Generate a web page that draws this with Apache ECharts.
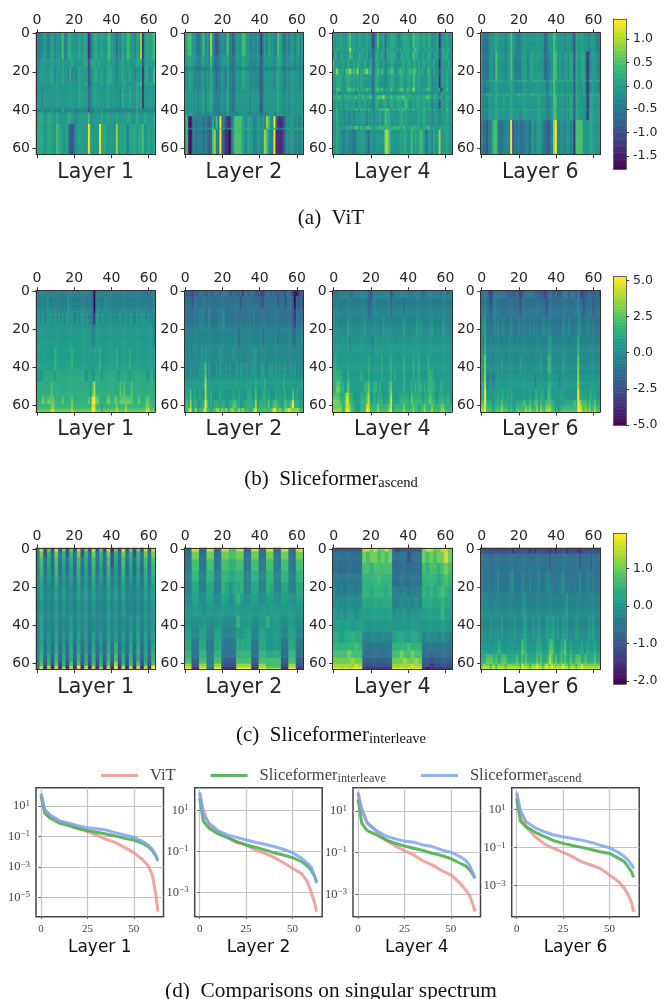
<!DOCTYPE html>
<html><head><meta charset="utf-8">
<style>html,body{margin:0;padding:0;background:#fff}#c{width:665px;height:999px}</style>
<script src="https://cdn.jsdelivr.net/npm/echarts@6/dist/echarts.min.js"></script>
</head><body><div id="c"></div>
<script>
// Heat-map readings. Each band: [first row, colour levels across the columns, optional fine steps down the band].
// Level characters: 0-9 whole levels, a-j half levels (a=0.5 ... i=8.5). 64 chars = one per column, 32 chars = one per two columns.
const vitL1=[[0,"44445544 65455574 46655556 55651356 65565567 55535465 57655465 81566567"],[14,"54555555 65556565 55565555 55662566 56656566 55545565 56555566 62565656"],[18,"45555555 65455565 54645456 55552456 65565566 65545565 55655455 61565457"],[26,"55555555 65555565 55555556 55662456 55565566 55545556 55555566 71565656"],[28,"55545555 55555555 55555556 55553456 55555565 55555465 55655565 61555555"],[40,"44454444 54444464 44454444 44442444 54454444 44444444 44444454 54444444"],[42,"66665566 65565555 56655455 55557455 55565565 55565555 56655565 55665556"],[48,"66665566 65576655 64223556 55559655 55966655 55585656 54666656 67556556"]];
const vitL2=[[0,"56775543 45745485 32345457 44245557 75544545 41454655 44765345 35545645"],[12,"55665544 45645475 33445556 44345556 65544545 42455555 45665445 45545545"],[18,"44554433 44444464 33344445 43344445 54444444 32444544 44554344 34444544"],[20,"45565444 45545465 43445446 44345556 65544545 32455555 45655445 45555545"],[30,"55555454 55645565 44445456 44345555 55545555 42455555 55655455 45555555"],[42,"55565444 45544454 44444445 44444555 55444545 43445555 44555445 45555555"],[44,"47103434 44343236 47394321 13577776 54655445 54548754 93111245 45545445"],[50,"57324544 55454457 56585533 45677776 66665556 65557765 75333456 65556566"],[51,"47103434 44343237 84393211 03577776 54655445 54587544 91111245 45545445"]];
const vitL4=[[0,"55556555 67565565 55655225 75563556 66545566 65576665 66566455 61455655"],[8,"65665655 68665655 65655335 65564656 65656566 66567665 56656555 62565665"],[10,"46546555 57655565 55645336 65653656 66545656 65576655 65566456 52465655"],[14,"75555655 65565665 56556436 65564556 65555665 66566565 66565565 51555565"],[19,"66866657 78676856 67867346 76764667 75567665 67677566 65576465 52555656"],[22,"55666556 66565656 55555346 65554556 65556655 66576565 55566455 51555655"],[29,"55776556 77675756 66766437 76765657 65667765 76686565 66676555 56155755"],[31,"45645555 55554565 55555345 55555555 55555555 65555555 55555455 53555555"],[33,"66676566 66667665 75667546 77786667 66676776 66665666 66776566 55645665"],[35,"55656556 55565565 56555446 65566556 65666567 65565665 66565455 52555655"],[40,"55756565 66667757 66676546 67777866 67576776 66676566 67666566 55645765"],[41,"55655545 44545555 55455545 56557665 55556656 55555565 66555455 54555655"],[49,"55665656 66667757 66776656 67676766 67676675 66676665 66675565 56656665"],[51,"55655445 44434555 55435545 55558875 55556566 55756567 65355465 58555655"]];
const vitL6=[[0,"53334555 65555455 75544455 55555555 55335557 65555455 54265565 55455544"],[10,"53334554 75555455 75444455 54565555 55334457 75554555 65265566 41355554"],[25,"54445656 65665565 65656566 65556665 66645567 66665566 65365566 51565565"],[26,"54344555 65555555 65545455 55555555 55544557 65555455 55265556 41355554"],[32,"55566655 66566675 65667666 65667566 66645667 66566566 65365666 51666565"],[33,"54445555 65556555 65555555 55555556 55544457 75555455 65265555 51465555"],[40,"55655656 66666665 66656566 66666665 66655567 66566566 65365665 52566565"],[41,"54445555 65555555 65555455 55555556 55544457 75555455 65265555 41465555"],[46,"43324467 74334444 92434333 44355455 54332348 94454455 44177775 55565555"]];
const ascL1=[[0,"44444444 44444444 44444444 44444430 44444444 44444444 44444444 44434344",[-.2]],[3,"44444454 44444444 45444444 44444430 44444544 44444444 44444444 44444344",[-.2,0,.2]],[12,"55454455 54545454 55454454 55454431 55455454 54545544 54554454 55545444",[0,.2]],[18,"55555555 55555555 55555555 55555544 55555555 55555555 55555555 55555554",[-.1,.1,.3]],[30,"55555555 55655555 55565555 55555555 55655555 55565555 55655555 55555555",[.3,.5]],[42,"55556666 66566666 66666666 66556655 66656666 66665666 66566666 66655665",[0,.2]],[48,"66666666 76666666 66666666 66666578 66666666 66666767 66676666 66666666",[0,.2,.4]],[56,"66677677 77666676 66676666 66667699 77666677 66776777 77776667 66677666",[.2,.4]],[60,"67777777 88777777 77787777 77777799 77767777 77787777 87777777 77788777",[-.5,-.3,0,.5]]];
const ascL2=[[0,"22221222 33322322 33323333 22322231 33223322 21123323 22223223 32100122",[.3]],[3,"33332333 33433333 33333333 33333323 33333333 32233333 33233323 33203232",[0,.2,.4]],[10,"33333333 44433433 33434433 33333333 33333433 33333333 33333333 33213333",[0,.3,.5]],[20,"44444444 44444444 44444444 44444344 44444444 44344444 44344444 44334444",[-.1,.1,.3]],[30,"44444444 45454444 44454444 44544444 44444554 44444444 44444444 44444444",[.2,.4]],[38,"44454444 55574544 45454454 54445455 45445554 45544555 45454554 45454544",[0,.2,.4]],[46,"55555555 55585555 55555555 55555555 55555565 55565555 55555655 55555555",[0,.2,.3]],[52,"56575655 65586565 55565555 55655655 55665575 55665655 56565665 55756555",[0,.2]],[58,"57585665 56697565 66656655 66776655 66666585 66666756 77665676 67966655",[0,.2]],[62,"67896786 77897767 78878787 78877878 77767897 77777778 98787788 98888877",[-.3,0]]];
const ascL4=[[0,"33344444 43344444 44432344 44444442 34444444 43434444 33444444 44344344",[-.2,0,.2]],[4,"44444444 44444444 44433444 44444443 44444434 44444444 44444444 44444444",[-.3,-.1,.1]],[14,"44444444 54444444 45444444 44454444 44444454 44444545 44444544 44454444",[.1,.3,.5]],[24,"55555555 54555555 55555455 55555555 55555555 55555555 55555555 55555555",[-.2,0,.2]],[34,"56555555 55555555 55565555 55655556 55555565 55565565 55565555 55555555",[.1,.3]],[42,"66666555 65555556 55565555 55655556 56555565 55565565 55566655 55555555",[.2,.4]],[48,"66776655 75555555 56675566 56555567 55555565 55656566 56566665 55655555",[.2,.5]],[54,"77776668 86655556 66785565 66655568 55556666 65766666 56667665 56665665",[0,.3,.5]],[60,"88888779 98776667 77997777 87777789 67777787 77787767 78777877 77887777",[-.6,-.3,0]]];
const ascL6=[[0,"23332123 33333322 22232122 33333222 22122322 32223332 33323212 22322232",[.2,.5]],[4,"33433234 33333333 33333233 33333333 33323333 33333333 33334332 33332333",[0,.2,.3]],[14,"34533334 34344333 43334333 33434333 34434333 33334334 33334433 34333333",[.2,.4,.6]],[24,"44644444 44444444 44444444 44444444 44445544 44444444 44446444 44444444",[0,.2,.4]],[34,"45744444 44454444 44444544 44444444 54446644 44445444 44447444 44444444",[.4,.6]],[44,"56844544 55555555 55555555 55555455 55556655 55455555 55558555 55555555",[-.1,.2]],[52,"66955555 56566565 65555555 55655665 66557655 55565555 55559665 65665655",[0,.2]],[58,"77966655 66676665 65566667 66766775 76677766 55565666 66769877 76766766",[0,.2]],[61,"88977766 77787776 76677777 87877786 87788877 66677777 77779987 87877877",[-.4,-.2,.2]]];
const intL1=[[0,"4i 2h 2i 2h 2h 2i 2h 2i 2h 2i 1h 2i 2h 2h 2i 2i"],[2,"4h 2g 3h 3g 2g 3h 2g 3h 3g 3h 2g 3h 3g 2g 3h 3h"],[5,"47 36 37 36 36 37 36 37 36 37 26 37 36 36 37 37"],[10,"4g 3f 3g 3f 3f 3g 3f 3g 3f 3g 3f 3g 3f 3f 3g 3g"],[15,"46 d5 d6 d5 d5 d6 d5 d6 d5 d6 d5 d6 d5 d5 d6 d6"],[20,"4f 4e 4f 4f 4e 4f 4f 4f 4e 4f 4f 4f 4e 4e 4f 4f"],[28,"45 4e 45 45 4e 45 45 45 4e 45 45 45 4e 4e 45 45"],[36,"4f 4e 45 4e 45 45 45 4e 4e 45 45 4e 45 45 45 45"],[44,"4f d5 df d5 df df d5 df d5 df df d5 df df df df"],[50,"46 35 36 3f 36 36 35 36 35 36 3g 35 36 36 3f 36"],[56,"4g c6 cg c6 c6 cg c6 cg c6 cg c7 c6 cg c6 c6 cg"],[60,"47 2g 27 2g 27 27 2g 27 2g 27 28 2g 27 27 2g 27"],[62,"48 18 18 17 18 19 18 18 17 18 19 18 18 18 18 19"],[63,"4i 1i 1i 1i 1i 1i 1i 1i 1i 1i 19 1i 1i 1i 1i 19"]];
const intL2=[[0,"33 ii 33 ii 33 ii 77 ii 33 ii 33 ii 33 ii 33 ii"],[2,"33 hh 33 hh 33 hh 77 hh 33 hh 33 hh 33 hh 33 hh"],[6,"dd 77 dd 77 dd 77 gg 77 dd 77 dd 77 dd 77 dd 77"],[12,"44 gg 44 gg 44 gg 66 gg 44 gg 44 gg 44 gg 44 gg"],[18,"44 66 44 66 44 g6 56 6g 44 66 44 g6 44 66 44 66"],[24,"ee ff ee ff ee ff ef gf ee ff ee ff ee ff ee ff"],[30,"55 55 5e 55 55 55 55 f5 55 55 55 5f 55 55 55 55"],[36,"55 ee 55 ee 55 ee ee g5 55 ee 55 g5 55 ee 55 ee"],[42,"ff 44 ff 44 ff 44 44 55 ff 44 ff 55 55 44 ff 44"],[48,"66 dd 66 dd 66 dd dd 66 66 dd 66 55 55 dd 66 dd"],[54,"gg 33 gg dd gg 33 33 gg gg 33 gg 66 66 33 gg 33"],[58,"77 cc 77 dd 77 cc cc 77 77 cc 77 77 77 cc 77 cc"],[61,"88 22 88 44 88 22 22 88 88 22 88 77 77 22 88 22"],[63,"99 11 99 33 99 11 11 99 99 11 99 88 88 11 99 11"]];
const intL4=[[0,"cccccccc iihihhih cbcccccc hiihhiih"],[2,"33333333 h7hh7h7h 33332333 h7h7hhih"],[8,"33333333 77g77777 33333333 7g77g7h7"],[14,"dddddddd gggg7ggg 33d33d33 gggg6g7g"],[20,"4d4d44d4 gg6ggg6g 44d4d4d4 g6g6g7g6"],[26,"eeeeeeee 66666666 44e4e4e4 66666g66"],[32,"5e5e55e5 ffffffff e5e5e5e5 fffffgff"],[38,"fffff5ff 55555555 55555f55 55555f55"],[44,"66f66g66 44e44e44 f66ff66f 4e4e4e44"],[50,"gggggg7g dddddddd gggg7ggg dddddddd"],[54,"7777h777 33333333 77h77h77 33c33333"],[58,"hhhhh8hh cccccccc hhh8hh8h cc2ccccc"],[61,"888888i8 22222222 88888i88 22122222"],[63,"99i9i999 11111111 9i9i9i99 10111111"]];
const intL6=[[0,"22222222 22222222 21222222 22122122 22222122 12222212 22221122 22222222",[0]],[3,"33333333 33333333 33333333 33333333 33333233 33333333 33333233 33323333",[0,.2,.4]],[12,"33333333 34333333 44333343 33433334 33344333 33344333 33333433 34333333",[.2,.5]],[24,"44444444 44444444 44444445 44444444 44444444 44444454 44444444 44444444",[-.2,.1,.4]],[36,"44444544 44454444 44544445 54445445 44455455 45445454 44454444 44545444",[.2,.5]],[48,"55555555 56655555 55555576 65555566 65556776 55566755 65555565 56555655",[-.2,.1,.4]],[56,"66677776 76677766 66676676 76666676 76667876 76676766 76677766 76666766",[-.1,.2,.5]],[61,"78888788 78888788 88888798 88788898 87898898 88889887 88878898 88888888",[-.5,0,.5]]];

// Singular spectra: index positions and log10(sigma)
const specX=[0,1,2,5,10,15,20,25,30,35,40,45,50,55,58,60,62,63];
const vitSpecL1=[1.8,1.2,.74,.34,.01,-.21,-.45,-.69,-.91,-1.19,-1.39,-1.72,-2.07,-2.55,-2.99,-3.54,-4.96,-5.95];
const intSpecL1=[1.65,1.1,.52,.19,-.14,-.29,-.48,-.62,-.73,-.84,-.97,-1.13,-1.24,-1.46,-1.7,-1.94,-2.3,-2.62];
const ascSpecL1=[1.83,1.3,.74,.41,.01,-.14,-.3,-.43,-.5,-.58,-.75,-.91,-1.06,-1.35,-1.6,-1.85,-2.3,-2.62];
const vitSpecL2=[1.83,1.34,1,.28,-.04,-.32,-.58,-.69,-.93,-1.1,-1.29,-1.55,-1.83,-2.1,-2.48,-2.97,-3.54,-3.94];
const intSpecL2=[1.59,1,.45,.12,-.15,-.33,-.53,-.69,-.8,-.93,-1.07,-1.18,-1.31,-1.5,-1.72,-1.91,-2.24,-2.48];
const ascSpecL2=[1.88,1.34,.77,.37,-.01,-.2,-.32,-.45,-.56,-.66,-.77,-.9,-1.07,-1.34,-1.59,-1.75,-2.24,-2.56];
const vitSpecL4=[1.85,1.45,1.13,.41,.01,-.39,-.68,-.9,-1.11,-1.4,-1.59,-1.86,-2.07,-2.47,-2.79,-3.03,-3.51,-3.83];
const intSpecL4=[1.56,1.05,.41,.06,-.15,-.39,-.55,-.68,-.79,-.9,-1.03,-1.14,-1.29,-1.51,-1.64,-1.8,-2.07,-2.23];
const ascSpecL4=[1.9,1.45,1.05,.44,.06,-.2,-.34,-.44,-.5,-.63,-.71,-.87,-.98,-1.19,-1.38,-1.59,-1.99,-2.23];
const vitSpecL6=[1.86,1.33,.81,.11,-.42,-.81,-1.04,-1.25,-1.47,-1.74,-1.91,-2.09,-2.44,-2.79,-3.14,-3.46,-3.93,-4.37];
const intSpecL6=[1.6,.98,.4,.11,-.19,-.42,-.63,-.77,-.88,-.98,-1.09,-1.21,-1.3,-1.56,-1.74,-2,-2.3,-2.56];
const ascSpecL6=[1.91,1.42,.98,.37,.05,-.16,-.33,-.42,-.51,-.6,-.72,-.86,-1,-1.26,-1.47,-1.65,-1.91,-2.09];

const layerNames=["Layer 1","Layer 2","Layer 4","Layer 6"];
const rangeVit=[-1.76,1.38], rangeAsc=[-5,5.2], rangeInt=[-2.05,1.89];
const ticksVit=["-1.5","-1.0","-0.5","0.0","0.5","1.0"], ticksAsc=["-5.0","-2.5","0.0","2.5","5.0"], ticksInt=["-2.0","-1.0","0.0","1.0"];
const cbStep=[0.05,0.1,0.05];
const logTicks=[[1e1,1e-1,1e-3,1e-5],[1e1,1e-1,1e-3],[1e1,1e-1,1e-3],[1e1,1e-1,1e-3]];
const logRange=[[-6.28,2.2],[-4.19,2.1],[-4.08,2.12],[-4.63,2.16]];
const levelFrac=[0,.13,.25,.36,.45,.53,.6,.7,.85,1];

const viridis=['#440154','#482878','#3e4989','#31688e','#26828e','#1f9e89','#35b779','#6ece58','#b5de2b','#fde725'];
const idx=Array.from({length:64},(_,i)=>String(i));
const hmLeft=[36,184.3,332.7,480.7], hmW=119.2;
const rows=[{top:32.7,h:122,maps:[vitL1,vitL2,vitL4,vitL6],range:rangeVit,ticks:ticksVit,cbTop:19,cbH:150},
 {top:290.7,h:121.3,maps:[ascL1,ascL2,ascL4,ascL6],range:rangeAsc,ticks:ticksAsc,cbTop:276.7,cbH:149},
 {top:548,h:121.7,maps:[intL1,intL2,intL4,intL6],range:rangeInt,ticks:ticksInt,cbTop:533.7,cbH:150.3}];
const grid=[],xAxis=[],yAxis=[],series=[],visualMap=[];
const ink='#262626', font='"DejaVu Sans"';
function levelOf(ch){const c=ch.charCodeAt(0);return c>=97?c-97+.5:c-48;}
function fracOf(l){l=Math.max(0,Math.min(9,l));const i=Math.min(8,Math.floor(l));return levelFrac[i]+(levelFrac[i+1]-levelFrac[i])*(l-i);}
function cells(bands,range){const out=[];
  bands.forEach((b,bi)=>{
    const r0=+b[0], r1=bi+1<bands.length?+bands[bi+1][0]:64;
    const s=b[1].replace(/ /g,''), cw=64/s.length, steps=b[2]||[0];
    for(let y=r0;y<r1;y++){
      const d=steps[Math.min(steps.length-1,Math.floor((y-r0)/(r1-r0)*steps.length))];
      for(let x=0;x<64;x++){
        const ch=s[Math.min(s.length-1,Math.floor(x/cw))];
        out.push([x,y,range[0]+fracOf(levelOf(ch)+d)*(range[1]-range[0])]);
      }
    }
  });
  return out;}
const every20=i=>i%20===0;
rows.forEach((r,ri)=>{
  const sIdx=[];
  r.maps.forEach((m,mi)=>{
    const g=grid.length;
    grid.push({left:hmLeft[mi],top:r.top,width:hmW,height:r.h});
    const base={type:'category',data:idx,gridIndex:g,z:6,axisLine:{show:true,onZero:false,lineStyle:{color:'#333',width:1}},splitLine:{show:false},
      axisTick:{show:true,alignWithLabel:true,length:3.5,interval:every20,lineStyle:{color:'#333',width:1}}};
    const xi=xAxis.length,yi=yAxis.length;
    xAxis.push({...base,position:'top',axisLabel:{interval:every20,margin:5,fontFamily:font,fontSize:14,color:ink}});
    xAxis.push({...base,position:'bottom',axisLabel:{show:false},name:layerNames[mi],nameLocation:'middle',nameGap:18,
      nameTextStyle:{fontFamily:font,fontSize:20.5,color:ink,verticalAlign:'middle'}});
    yAxis.push({...base,inverse:true,position:'left',axisLabel:{interval:every20,margin:6,fontFamily:font,fontSize:14,color:ink}});
    yAxis.push({...base,inverse:true,position:'right',axisTick:{show:false},axisLabel:{show:false}});
    sIdx.push(series.length);
    series.push({type:'heatmap',xAxisIndex:xi,yAxisIndex:yi,data:cells(m,r.range),progressive:0,animation:false,silent:true,emphasis:{disabled:true},itemStyle:{borderWidth:0}});
  });
  // colour bar
  const st=cbStep[ri], cats=[];
  const n=Math.round((r.range[1]-r.range[0])/st);
  const lo=Math.round(r.range[0]/st);
  for(let i=0;i<=n;i++)cats.push(((lo+i)*st).toFixed(ri===1?1:2));
  const labelOf=c=>parseFloat(c).toFixed(1);
  const isTick=(i,c)=>Math.abs(parseFloat(c)*100%(ri===0?50:ri===1?250:100))<1e-6 && r.ticks.includes(labelOf(c));
  const g=grid.length;
  grid.push({left:613.3,top:r.cbTop,width:12.7,height:r.cbH});
  const xi=xAxis.length,yi=yAxis.length;
  const line={show:true,onZero:false,lineStyle:{color:'#666',width:1}};
  xAxis.push({type:'category',data:['c'],gridIndex:g,z:6,axisLine:line,axisTick:{show:false},axisLabel:{show:false},splitLine:{show:false}});
  xAxis.push({type:'category',data:['c'],gridIndex:g,z:6,position:'top',axisLine:line,axisTick:{show:false},axisLabel:{show:false},splitLine:{show:false}});
  yAxis.push({type:'category',data:cats,gridIndex:g,z:6,position:'right',axisLine:line,axisTick:{show:true,alignWithLabel:true,length:3,interval:isTick,lineStyle:{color:'#333'}},
    axisLabel:{interval:isTick,margin:7,fontFamily:font,fontSize:12.5,color:ink,formatter:labelOf},splitLine:{show:false}});
  yAxis.push({type:'category',data:cats,gridIndex:g,z:6,position:'left',axisLine:line,axisTick:{show:false},axisLabel:{show:false},splitLine:{show:false}});
  sIdx.push(series.length);
  series.push({type:'heatmap',xAxisIndex:xi,yAxisIndex:yi,data:cats.map((c,i)=>[0,i,parseFloat(c)]),progressive:0,animation:false,silent:true,emphasis:{disabled:true}});
  visualMap.push({show:false,type:'continuous',min:r.range[0],max:r.range[1],dimension:2,seriesIndex:sIdx,inRange:{color:viridis}});
});

// spectrum panels
const specLeft=[36,194.7,353,511.7], specW=127.5, specTop=787.7, specH=129;
const specSets=[[vitSpecL1,intSpecL1,ascSpecL1],[vitSpecL2,intSpecL2,ascSpecL2],[vitSpecL4,intSpecL4,ascSpecL4],[vitSpecL6,intSpecL6,ascSpecL6]];
const specNames=['ViT','Sliceformer_interleave','Sliceformer_ascend'];
const specCols=['rgba(241,140,140,0.8)','rgba(76,175,80,0.9)','rgba(125,165,240,0.85)'];
const serifF='"Liberation Serif"';
specSets.forEach((set,i)=>{
  const g=grid.length;
  grid.push({left:specLeft[i],top:specTop,width:specW,height:specH,show:true,borderColor:'#444',borderWidth:1.5,backgroundColor:'transparent'});
  const xi=xAxis.length,yi=yAxis.length;
  xAxis.push({type:'value',gridIndex:g,min:-2.7,max:66,axisLine:{show:false},
    axisTick:{show:true,customValues:[0,25,50],length:2,lineStyle:{color:'#555'}},
    axisLabel:{customValues:[0,25,50],fontFamily:serifF,fontSize:11,color:'#444',margin:7},
    splitLine:{show:true,lineStyle:{color:'#c4c4c4',width:1.2}},
    name:layerNames[i],nameLocation:'middle',nameGap:31,nameTextStyle:{fontFamily:font,fontSize:17,color:'#111',verticalAlign:'middle'}});
  yAxis.push({type:'log',gridIndex:g,min:10**logRange[i][0],max:10**logRange[i][1],axisLine:{show:false},
    axisTick:{show:true,customValues:logTicks[i],length:2,lineStyle:{color:'#555'}},
    axisLabel:{customValues:logTicks[i],margin:6,fontFamily:serifF,color:'#444',
      formatter:v=>'{b|10}{s|'+String(Math.round(Math.log10(v))).replace('-','\u2212')+'}',
      rich:{b:{fontFamily:serifF,fontSize:12.5,color:'#444'},s:{fontFamily:serifF,fontSize:9,color:'#444',verticalAlign:'top',padding:[0,0,5,0]}}},
    splitLine:{show:true,lineStyle:{color:'#c4c4c4',width:1.2}}});
  set.forEach((vals,k)=>{
    series.push({type:'line',name:specNames[k],xAxisIndex:xi,yAxisIndex:yi,z:3+k,showSymbol:false,animation:false,silent:true,
      data:vals.map((e,j)=>[specX[j],10**e]),lineStyle:{color:specCols[k],width:3},itemStyle:{color:specCols[k]},clip:false});
  });
});

const captionRich={m:{fontFamily:serifF,fontSize:21,fontWeight:'normal',color:'#111'},d:{fontFamily:serifF,fontSize:21.3,fontWeight:'normal',color:'#111'},s:{fontFamily:serifF,fontSize:14.5,fontWeight:'normal',color:'#111',verticalAlign:'bottom',padding:[9,0,0,0]}};
const captions=[['{m|(a)  ViT}',218],['{m|(b)  Sliceformer}{s|ascend}',479],['{m|(c)  Sliceformer}{s|interleave}',735],['{d|(d)  Comparisons on singular spectrum}',991]];
const title=captions.map(c=>({text:c[0],left:331,top:c[1],padding:0,textAlign:'center',textVerticalAlign:'middle',textStyle:{rich:captionRich,fontWeight:'normal'}}));

const opt={animation:false,backgroundColor:'#fff',grid,xAxis,yAxis,series,visualMap,title,
 legend:{left:101,top:767,padding:0,itemWidth:37,itemHeight:3,itemGap:35,icon:'rect',selectedMode:false,data:specNames,
  formatter:n=>{const p=n.split('_');return p[1]?'{m|'+p[0]+'}{s|'+p[1]+'}':'{m|'+p[0]+'}';},
  textStyle:{rich:{m:{fontFamily:serifF,fontSize:16.5,color:'#444',padding:[0,0,0,7]},s:{fontFamily:serifF,fontSize:12.3,color:'#444',verticalAlign:'bottom',padding:[6,0,0,0]}}}}};
const chart=echarts.init(document.getElementById('c'),null,{renderer:'canvas',width:665,height:999});
chart.setOption(opt);
</script></body></html>
